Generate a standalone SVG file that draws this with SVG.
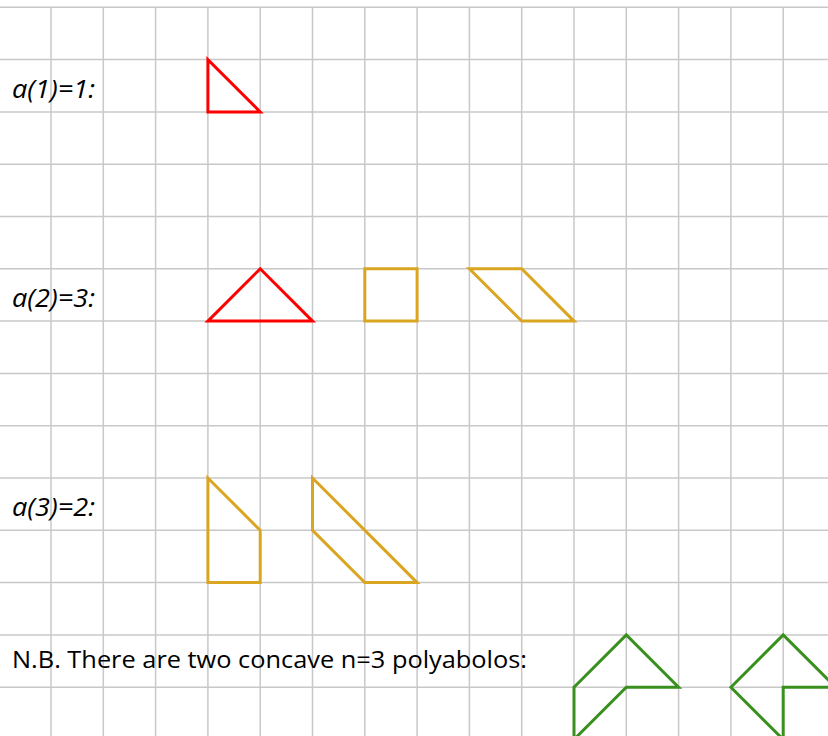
<svg xmlns="http://www.w3.org/2000/svg" width="828" height="736" viewBox="0 0 828 736">
<style>
.grid line{stroke:#c8c8c8;stroke-width:1.5}
.shape{fill:none;stroke-width:3;stroke-linejoin:miter}
.red{stroke:#ff0000}
.gold{stroke:#daa520}
.green{stroke:#3a901f}
.lab{font-family:"Open Sans","Liberation Sans",sans-serif;font-size:26px;font-style:italic;fill:#000}
.note{font-family:"Open Sans","Liberation Sans",sans-serif;font-size:23px;fill:#000}
</style>
<rect width="828" height="736" fill="#fff"/>
<g class="grid" id="grid">
<line x1="0" y1="7.3" x2="828" y2="7.3"/>
<line x1="0" y1="59.6" x2="828" y2="59.6"/>
<line x1="0" y1="111.9" x2="828" y2="111.9"/>
<line x1="0" y1="164.2" x2="828" y2="164.2"/>
<line x1="0" y1="216.5" x2="828" y2="216.5"/>
<line x1="0" y1="268.8" x2="828" y2="268.8"/>
<line x1="0" y1="321.1" x2="828" y2="321.1"/>
<line x1="0" y1="373.4" x2="828" y2="373.4"/>
<line x1="0" y1="425.7" x2="828" y2="425.7"/>
<line x1="0" y1="478" x2="828" y2="478"/>
<line x1="0" y1="530.3" x2="828" y2="530.3"/>
<line x1="0" y1="582.6" x2="828" y2="582.6"/>
<line x1="0" y1="634.9" x2="828" y2="634.9"/>
<line x1="0" y1="687.2" x2="828" y2="687.2"/>
<line x1="51" y1="7.3" x2="51" y2="736"/>
<line x1="103.3" y1="7.3" x2="103.3" y2="736"/>
<line x1="155.6" y1="7.3" x2="155.6" y2="736"/>
<line x1="207.9" y1="7.3" x2="207.9" y2="736"/>
<line x1="260.2" y1="7.3" x2="260.2" y2="736"/>
<line x1="312.5" y1="7.3" x2="312.5" y2="736"/>
<line x1="364.8" y1="7.3" x2="364.8" y2="736"/>
<line x1="417.1" y1="7.3" x2="417.1" y2="736"/>
<line x1="469.4" y1="7.3" x2="469.4" y2="736"/>
<line x1="521.7" y1="7.3" x2="521.7" y2="736"/>
<line x1="574" y1="7.3" x2="574" y2="736"/>
<line x1="626.3" y1="7.3" x2="626.3" y2="736"/>
<line x1="678.6" y1="7.3" x2="678.6" y2="736"/>
<line x1="730.9" y1="7.3" x2="730.9" y2="736"/>
<line x1="783.2" y1="7.3" x2="783.2" y2="736"/>
</g>
<g id="labels">
<text class="lab" x="12" y="98" textLength="83" lengthAdjust="spacingAndGlyphs">a(1)=1:</text>
<text class="lab" x="12" y="307" textLength="83" lengthAdjust="spacingAndGlyphs">a(2)=3:</text>
<text class="lab" x="12" y="516" textLength="83" lengthAdjust="spacingAndGlyphs">a(3)=2:</text>
<text class="note" x="12" y="668" textLength="515" lengthAdjust="spacingAndGlyphs">N.B. There are two concave n=3 polyabolos:</text>
</g>
<g id="a1-triangle"><polygon class="shape red" points="207.9,59.6 207.9,111.9 260.2,111.9"/></g>
<g id="a2-triangle"><polygon class="shape red" points="207.9,321.1 260.2,268.8 312.5,321.1"/></g>
<g id="a2-square"><polygon class="shape gold" points="364.8,268.8 417.1,268.8 417.1,321.1 364.8,321.1"/></g>
<g id="a2-parallelogram"><polygon class="shape gold" points="469.4,268.8 521.7,268.8 574,321.1 521.7,321.1"/></g>
<g id="a3-trapezoid"><polygon class="shape gold" points="207.9,478 260.2,530.3 260.2,582.6 207.9,582.6"/></g>
<g id="a3-parallelogram"><polygon class="shape gold" points="312.5,478 417.1,582.6 364.8,582.6 312.5,530.3"/></g>
<g id="concave-1"><polygon class="shape green" points="574,687.2 626.3,634.9 678.6,687.2 626.3,687.2 574,739.5"/></g>
<g id="concave-2"><polygon class="shape green" points="730.9,687.2 783.2,634.9 835.5,687.2 783.2,687.2 783.2,739.5"/></g>
</svg>
